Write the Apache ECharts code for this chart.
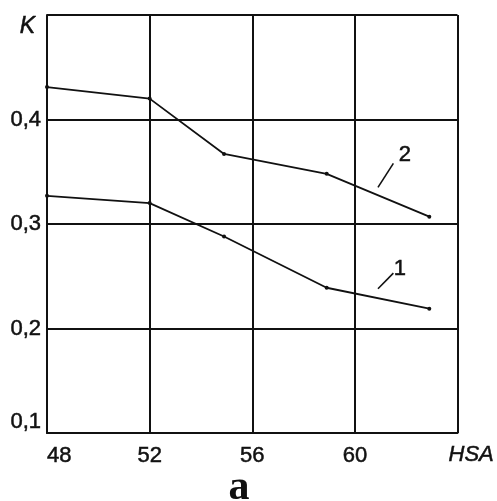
<!DOCTYPE html>
<html>
<head>
<meta charset="utf-8">
<script src="https://cdn.jsdelivr.net/npm/echarts@6/dist/echarts.min.js"></script>
<style>html,body{margin:0;padding:0;background:#fff;}#c{width:497px;height:501px;}</style>
</head>
<body>
<div id="c"></div>
<script>
// Data
const xValues = [48, 52, 54.9, 58.9, 62.9];
const curve1 = [0.327, 0.320, 0.288, 0.239, 0.219];
const curve2 = [0.431, 0.420, 0.367, 0.348, 0.307];
const xTicks = [48, 52, 56, 60];
const yTicks = [0.1, 0.2, 0.3, 0.4];
// Curve labels with leader lines (data coordinates)
const label1 = { text: '1', at: [61.75, 0.257], leader: [[60.9, 0.238], [61.5, 0.253]] };
const label2 = { text: '2', at: [61.95, 0.366], leader: [[60.9, 0.335], [61.5, 0.358]] };

const chart = echarts.init(document.getElementById('c'));
const black = '#111';
const heavy = { textBorderColor: black, textBorderWidth: 0.5 };
function seriesFor(name, ys, lab) {
  return {
    name: name, type: 'line', data: xValues.map((x, i) => [x, ys[i]]),
    symbol: 'circle', symbolSize: 4, lineStyle: { color: black, width: 1.8 },
    itemStyle: { color: black }, silent: true, animation: false,
    markLine: {
      silent: true, symbol: ['none', 'none'], animation: false,
      lineStyle: { color: black, width: 1.6, type: 'solid' }, label: { show: false },
      data: [[{ coord: lab.leader[0] }, { coord: lab.leader[1] }]]
    },
    markPoint: {
      silent: true, animation: false, symbol: 'circle', symbolSize: 1,
      itemStyle: { color: 'rgba(0,0,0,0)' },
      label: Object.assign({ show: true, position: 'inside', color: black, fontFamily: 'Liberation Sans, Arial', fontSize: 22, formatter: lab.text }, heavy),
      data: [{ coord: lab.at }]
    }
  };
}
chart.setOption({
  animation: false,
  backgroundColor: '#fff',
  grid: { left: 47, right: 38, top: 15, bottom: 68, containLabel: false },
  title: {
    text: 'a', left: 234, top: 462, textAlign: 'center',
    textStyle: { fontFamily: 'Liberation Serif, Times New Roman', fontWeight: 'bold', fontSize: 42, color: black }
  },
  xAxis: {
    type: 'value', min: 48, max: 64, interval: 4,
    name: 'HSA', nameLocation: 'end', nameGap: -9,
    nameTextStyle: Object.assign({ fontFamily: 'Liberation Sans, Arial', fontStyle: 'italic', fontSize: 22, color: black, align: 'left', verticalAlign: 'top', padding: [11, 0, 0, 0] }, heavy),
    axisLine: { show: true, lineStyle: { color: black, width: 2 } },
    axisTick: { show: false },
    splitLine: { show: true, lineStyle: { color: black, width: 2 } },
    axisLabel: Object.assign({
      margin: 12, color: black, fontFamily: 'Liberation Sans, Arial', fontSize: 22,
      alignMinLabel: 'left',
      formatter: v => xTicks.includes(v) ? String(v) : ''
    }, heavy)
  },
  yAxis: {
    type: 'value', min: 0.1, max: 0.5, interval: 0.1,
    name: 'K', nameLocation: 'end', nameGap: -23,
    nameTextStyle: Object.assign({ fontFamily: 'Liberation Sans, Arial', fontStyle: 'italic', fontSize: 23, color: black, align: 'right', verticalAlign: 'bottom', padding: [0, 12, 0, 0] }, heavy),
    axisLine: { show: true, lineStyle: { color: black, width: 2 } },
    axisTick: { show: false },
    splitLine: { show: true, lineStyle: { color: black, width: 2 } },
    axisLabel: Object.assign({
      margin: 6, color: black, fontFamily: 'Liberation Sans, Arial', fontSize: 22,
      verticalAlignMinLabel: 'bottom',
      formatter: v => {
        const t = yTicks.find(y => Math.abs(y - v) < 1e-6);
        return t === undefined ? '' : t.toFixed(1).replace('.', ',');
      }
    }, heavy)
  },
  series: [seriesFor('1', curve1, label1), seriesFor('2', curve2, label2)]
});
</script>
</body>
</html>
